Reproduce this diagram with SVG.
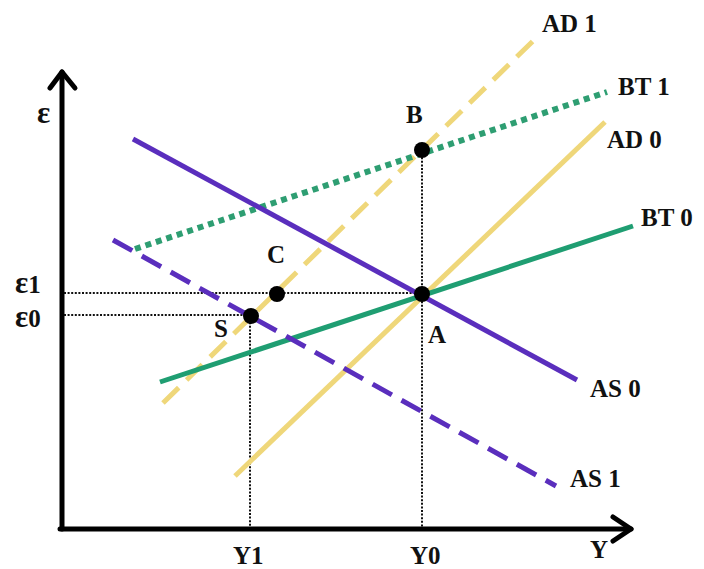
<svg xmlns="http://www.w3.org/2000/svg" width="704" height="569" viewBox="0 0 704 569">
<style>
text{font-family:"Liberation Serif","Times New Roman",serif;font-weight:bold;font-size:25px;fill:#111}
.eps{font-size:31px}
.axis{stroke:#000;stroke-width:5;fill:none;stroke-linecap:round;stroke-linejoin:round}
.guide{stroke:#111;stroke-width:2;stroke-dasharray:2 1.6;fill:none}
.as{stroke:#5a2ebd;stroke-width:5;fill:none}
.bt{stroke:#1f9e72;stroke-width:5;fill:none}
.bt1{stroke:#2e9e72;stroke-width:6;stroke-dasharray:6 5;fill:none}
.ad{stroke:#efd77a;stroke-width:5;fill:none}
.dash{stroke-dasharray:22 11}
.dot{fill:#000}
</style>
<rect width="704" height="569" fill="#fff"/>
<g id="axes">
<line class="axis" x1="62" y1="72" x2="62" y2="529"/>
<line class="axis" x1="60" y1="529" x2="631" y2="529"/>
<polyline class="axis" points="50,88 62,72 75,88"/>
<polyline class="axis" points="613,517 631,529 613,541"/>
<text x="37" y="123" class="eps">ε</text>
<text x="590" y="558">Y</text>
</g>
<g id="guides">
<line class="guide" x1="64" y1="293" x2="422" y2="293"/>
<line class="guide" x1="64" y1="315" x2="251" y2="315"/>
<line class="guide" x1="422" y1="150" x2="422" y2="527"/>
<line class="guide" x1="250" y1="315" x2="250" y2="527"/>
</g>
<g id="curves">
<line id="ad0" class="ad" x1="235" y1="476" x2="605" y2="122"/>
<line id="ad1" class="ad dash" x1="163" y1="403" x2="534" y2="40"/>
<line id="bt0" class="bt" x1="160" y1="382" x2="633" y2="226"/>
<line id="bt1" class="bt1" x1="135" y1="249" x2="607" y2="92"/>
<line id="as0" class="as" x1="133" y1="139" x2="577" y2="380"/>
<line id="as1" class="as dash" x1="113" y1="240" x2="556" y2="486"/>
</g>
<g id="labels">
<text x="542" y="32">AD 1</text>
<text x="618" y="95">BT 1</text>
<text x="607" y="148">AD 0</text>
<text x="641" y="226">BT 0</text>
<text x="590" y="397">AS 0</text>
<text x="570" y="487">AS 1</text>
<text x="15" y="293"><tspan class="eps">ε</tspan>1</text>
<text x="15" y="327"><tspan class="eps">ε</tspan>0</text>
<text x="233" y="564">Y1</text>
<text x="410" y="564">Y0</text>
</g>
<g id="pointA"><circle class="dot" cx="422" cy="294" r="8"/><text x="428" y="343">A</text></g>
<g id="pointB"><circle class="dot" cx="422" cy="150" r="8"/><text x="406" y="123">B</text></g>
<g id="pointC"><circle class="dot" cx="277" cy="294" r="8"/><text x="267" y="263">C</text></g>
<g id="pointS"><circle class="dot" cx="251" cy="316" r="8"/><text x="214" y="337">S</text></g>
</svg>
